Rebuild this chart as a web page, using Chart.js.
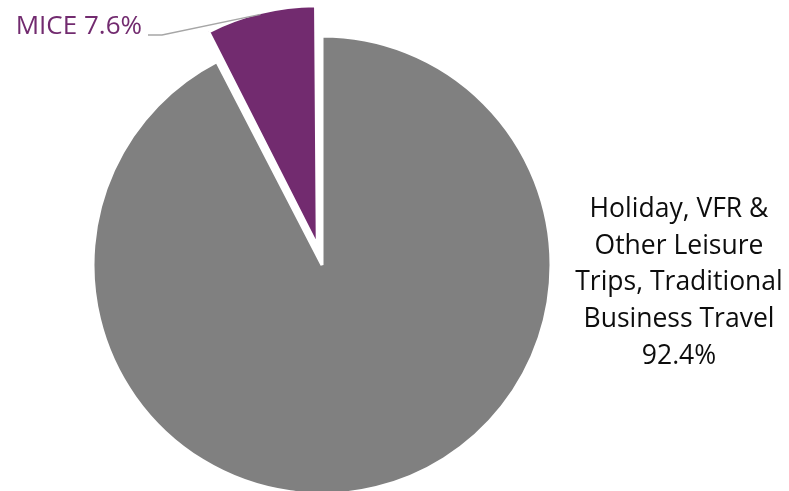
<!DOCTYPE html>
<html>
<head>
<meta charset="utf-8">
<script src="https://cdn.jsdelivr.net/npm/chart.js@4/dist/chart.umd.min.js"></script>
<style>
  html, body { margin: 0; padding: 0; background: #fff; }
  #wrap { width: 789px; height: 491px; position: relative; }
</style>
</head>
<body>
<div id="wrap"><canvas id="pie"></canvas></div>
<script>
// data
const categories = ['Holiday, VFR & Other Leisure Trips, Traditional Business Travel', 'MICE'];
const shares = [92.4, 7.6];
const labelLines = [['Holiday, VFR &', 'Other Leisure', 'Trips, Traditional', 'Business Travel'], ['MICE']];
const sliceColors = ['#808080', '#722B6F'];
const textColors = ['#0d0d0d', '#722B6F'];

const FONT = '"Open Sans", "Noto Sans", sans-serif';

// draws the two data labels next to their slices
const sliceLabels = {
    id: 'sliceLabels',
    afterDatasetsDraw(chart) {
        const ctx = chart.ctx;
        const arcs = chart.getDatasetMeta(0).data;
        const big = arcs[0];
        const small = arcs[1];
        ctx.save();

        // big slice: centred block on the right
        ctx.font = '26.5px ' + FONT;
        ctx.fillStyle = textColors[0];
        ctx.textAlign = 'center';
        ctx.textBaseline = 'alphabetic';
        const lines = labelLines[0].concat([shares[0].toFixed(1) + '%']);
        const cx = big.x + 357;
        let y = big.y - 48;
        lines.forEach(l => { ctx.fillText(l, cx, y); y += 36.7; });

        // small slice: leader line from the arc edge to the text
        const mid = (small.startAngle + small.endAngle) / 2;
        const shift = 31;
        const ex = small.x + Math.cos(mid) * (shift + small.outerRadius);
        const ey = small.y + Math.sin(mid) * (shift + small.outerRadius) + 2;
        const tx = small.x - 174;
        const ty = small.y - 230;
        ctx.strokeStyle = '#a6a6a6';
        ctx.lineWidth = 1.5;
        ctx.beginPath();
        ctx.moveTo(ex, ey);
        ctx.lineTo(tx + 14, ty);
        ctx.lineTo(tx, ty);
        ctx.stroke();

        ctx.font = '26px ' + FONT;
        ctx.fillStyle = textColors[1];
        ctx.textAlign = 'right';
        ctx.fillText(labelLines[1][0] + ' ' + shares[1].toFixed(1) + '%', tx - 6, ty - 1);
        ctx.restore();
    }
};

new Chart(document.getElementById('pie'), {
    type: 'pie',
    data: {
        labels: categories,
        datasets: [{
            data: shares,
            backgroundColor: sliceColors,
            borderColor: '#ffffff',
            borderWidth: 3,
            offset: [0, 80],
            hoverOffset: 0,
            clip: false
        }]
    },
    options: {
        responsive: true,
        maintainAspectRatio: false,
        animation: false,
        radius: 229,
        rotation: 0,
        layout: { padding: { left: 0, right: 145, top: 39, bottom: 0 } },
        plugins: {
            legend: { display: false },
            tooltip: { enabled: false }
        }
    },
    plugins: [sliceLabels]
});
</script>
</body>
</html>
